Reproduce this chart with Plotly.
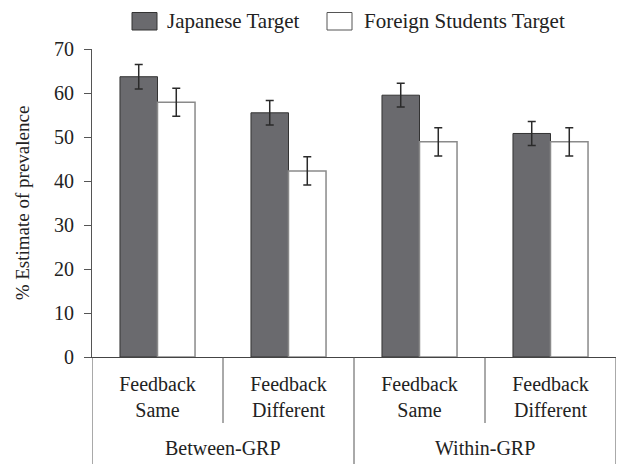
import plotly.graph_objects as go

# ---- data ----
outer_groups = ["Between-GRP", "Between-GRP", "Within-GRP", "Within-GRP"]
inner_labels = ["Feedback<br>Same", "Feedback<br>Different", "Feedback<br>Same", "Feedback<br>Different"]
series_names = ["Japanese Target", "Foreign Students Target"]
japanese = [63.7, 55.5, 59.5, 50.8]
japanese_err = [2.8, 2.8, 2.7, 2.75]
foreign = [57.9, 42.3, 48.9, 48.9]
foreign_err = [3.2, 3.2, 3.2, 3.2]
y_ticks = [0, 10, 20, 30, 40, 50, 60, 70]

FONT = "Liberation Serif, Times New Roman, DejaVu Serif, serif"
W, H = 617, 464
ML, MR, MT, MB = 92, 1, 49, 107
PW, PH = W - ML - MR, H - MT - MB

def px_x(px):
    return (px - ML) / PW

def px_y(py):
    return (H - MB - py) / PH

xpos = list(range(len(inner_labels)))

fig = go.Figure()
fig.add_trace(go.Bar(
    x=xpos, y=japanese, name=series_names[0],
    marker=dict(color="#6a6a6e", line=dict(color="#333333", width=1)),
    error_y=dict(type="data", array=japanese_err, color="#2a2a2a", thickness=1.5, width=4),
))
fig.add_trace(go.Bar(
    x=xpos, y=foreign, name=series_names[1],
    marker=dict(color="#ffffff", line=dict(color="#8a8a8a", width=1.5)),
    error_y=dict(type="data", array=foreign_err, color="#2a2a2a", thickness=1.5, width=4),
))

shapes = []
# category divider lines
n = len(inner_labels)
for i in range(n + 1):
    b = i - 0.5
    is_outer = (i == 0 or i == n or outer_groups[i - 1] != outer_groups[i])
    y1 = px_y(H + 5) if is_outer else px_y(423)
    shapes.append(dict(type="line", xref="x", yref="paper", x0=b, x1=b, y0=0, y1=y1,
                       line=dict(color="#555555", width=1)))

annotations = []
# outer group labels
seen = []
for g in outer_groups:
    if g not in seen:
        seen.append(g)
for g in seen:
    idx = [i for i, v in enumerate(outer_groups) if v == g]
    annotations.append(dict(text=g, xref="x", yref="paper", x=sum(idx) / len(idx), y=px_y(448),
                            showarrow=False, xanchor="center", yanchor="middle",
                            font=dict(family=FONT, size=20, color="#222222")))

# manual legend
legend_items = [(132, 157, 165, "#6a6a6e", "#333333"), (327, 352, 362, "#ffffff", "#555555")]
for (bx0, bx1, tx, fill, line), name in zip(legend_items, series_names):
    shapes.append(dict(type="rect", xref="paper", yref="paper",
                       x0=px_x(bx0), x1=px_x(bx1), y0=px_y(30), y1=px_y(12.5),
                       fillcolor=fill, line=dict(color=line, width=1)))
    annotations.append(dict(text=name, xref="paper", yref="paper", x=px_x(tx), y=px_y(21),
                            showarrow=False, xanchor="left", yanchor="middle",
                            font=dict(family=FONT, size=21, color="#222222")))

fig.update_layout(
    width=W, height=H,
    margin=dict(l=ML, r=MR, t=MT, b=MB, autoexpand=False),
    paper_bgcolor="white", plot_bgcolor="white",
    barmode="group", bargap=0.427, bargroupgap=0,
    showlegend=False,
    font=dict(family=FONT, size=20, color="#222222"),
    shapes=shapes, annotations=annotations,
    xaxis=dict(
        range=[-0.5, n - 0.5], tickmode="array", tickvals=xpos, ticktext=inner_labels,
        ticks="", showgrid=False, zeroline=False, showline=True, linecolor="#444444", linewidth=1,
        tickfont=dict(family=FONT, size=20, color="#222222"), ticklabelstandoff=9,
    ),
    yaxis=dict(
        range=[0, 70], tickmode="array", tickvals=y_ticks,
        ticks="outside", ticklen=7, tickcolor="#555555", tickwidth=1,
        showgrid=False, zeroline=False, showline=True, linecolor="#555555", linewidth=1,
        tickfont=dict(family=FONT, size=20, color="#222222"), ticklabelstandoff=6,
        title=dict(text="% Estimate of prevalence", font=dict(family=FONT, size=19, color="#222222"), standoff=19),
    ),
)

fig.write_html("out.html")
